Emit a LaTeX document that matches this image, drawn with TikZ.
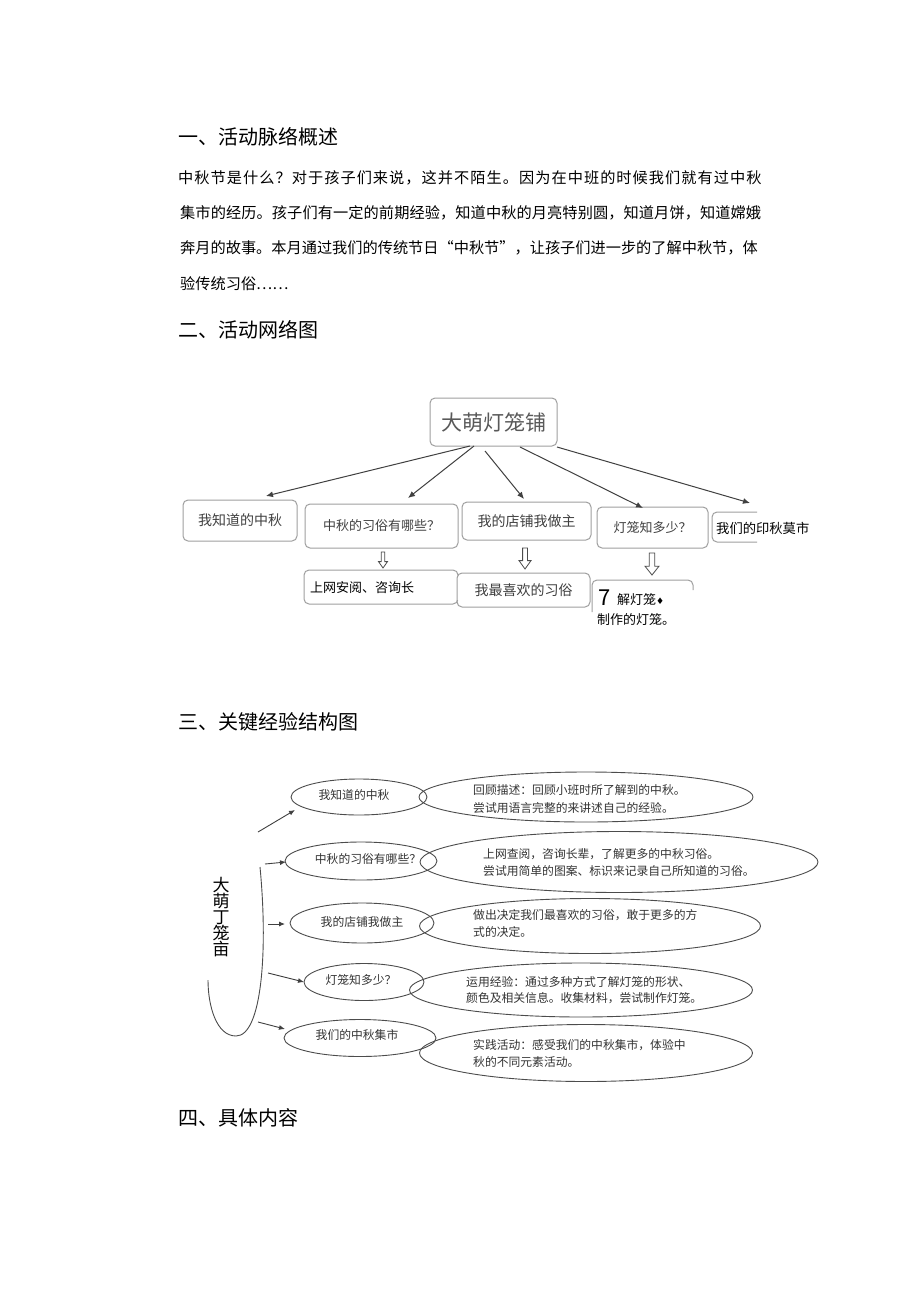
\documentclass[tikz,border=0pt]{standalone}
\usepackage{fontspec}
\setmainfont{Noto Sans CJK SC}
\newfontfamily\dejavu{DejaVu Sans}
\usetikzlibrary{arrows.meta,shapes.geometric}
\newcommand\ls[2]{{\addfontfeature{LetterSpace=#1}#2}}
\newcommand\fs[1]{\fontsize{#1}{#1}\selectfont}
\newcommand\hdown[4]{%
  \draw[hollow] (#1-#4*0.4,#2) -- (#1+#4*0.4,#2) -- (#1+#4*0.4,#2+#3*0.6) -- (#1+#4,#2+#3*0.6) -- (#1,#2+#3) -- (#1-#4,#2+#3*0.6) -- (#1-#4*0.4,#2+#3*0.6) -- cycle;}
\tikzset{
  txt/.style={inner sep=0pt, anchor=west},
  head/.style={txt, font=\fs{20}},
  body/.style={txt, font=\fs{15.2}},
  rbox/.style={draw=gray!75, line width=1pt, rounded corners=5pt, inner sep=0pt, text=black!75, font=\fs{13}},
  conn/.style={draw=gray!50!black, line width=1pt, -{Latex[length=7pt,width=6pt]}},
  sconn/.style={draw=gray!50!black, line width=0.9pt, -{Latex[length=6pt,width=5pt]}},
  hollow/.style={draw=gray!60!black, line width=0.8pt},
  sell/.style={ellipse, draw=gray!60!black, line width=0.9pt, inner sep=0pt},
  etxt/.style={inner sep=0pt, text=black!80, font=\fs{11.8}},
  ltxt/.style={txt, text=black!80, font=\fs{11.8}},
}
\begin{document}
\begin{tikzpicture}[x=1pt,y=-1pt]
\useasboundingbox[fill=white] (0,0) rectangle (920,1301);

% ---------- section 1 ----------
\node[head] (h1) at (178,137) {一、活动脉络概述};
\node[body] (p1) at (178,178) {\ls{6.8}{中秋节是什么？对于孩子们来说，这并不陌生。因为在中班的时候我们就有过中秋}};
\node[body] (p2) at (180,213) {\ls{0.6}{集市的经历。孩子们有一定的前期经验，知道中秋的月亮特别圆，知道月饼，知道嫦娥}};
\node[body] (p3) at (180,248) {奔月的故事。本月通过我们的传统节日“中秋节”，让孩子们进一步的了解中秋节，体};
\node[body] (p4) at (180,284) {验传统习俗……};

% ---------- section 2 ----------
\node[head] (h2) at (178,330) {二、活动网络图};

\node[rbox, minimum width=127pt, minimum height=48pt, font=\fs{21}, text=black!65] (root) at (493.5,422) {大萌灯笼铺};

\node[rbox, minimum width=114pt, minimum height=41pt, font=\fs{14}] (c1) at (240,520.5) {我知道的中秋};
\node[rbox, minimum width=153pt, minimum height=44pt] (c2) at (381.5,526) {中秋的习俗有哪些？};
\node[rbox, minimum width=129pt, minimum height=38pt, font=\fs{14}] (c3) at (526.5,521) {我的店铺我做主};
\node[rbox, minimum width=111pt, minimum height=41pt] (c4) at (652.5,527.5) {灯笼知多少？};
\draw[draw=gray!75, line width=1pt, rounded corners=5pt] (757,512) -- (712,512) -- (712,542) -- (757,542);
\node[txt, font=\fs{13.3}, text=black] (c5) at (716,528) {我们的印秋莫市};

\coordinate (r1) at (470,446);
\coordinate (r2) at (474,446);
\coordinate (r3) at (485,451);
\coordinate (r4) at (520,447);
\coordinate (r5) at (557,447);
\coordinate (t1) at (266,496);
\coordinate (t2) at (408,498);
\coordinate (t3) at (524,499);
\coordinate (t4) at (643,508);
\coordinate (t5) at (750,503);
\draw[conn] (r1) -- (t1);
\draw[conn] (r2) -- (t2);
\draw[conn] (r3) -- (t3);
\draw[conn] (r4) -- (t4);
\draw[conn] (r5) -- (t5);

\hdown{383}{552}{16}{4.5}
\hdown{525}{548}{21}{6}
\hdown{652}{553}{22}{7}

\draw[draw=gray!75, line width=1pt, rounded corners=5pt] (304,570) rectangle (458,604);
\node[txt, fill=white, minimum height=24pt, text width=148pt, font=\fs{13}, text=black, inner xsep=4pt] (s2) at (306,588) {上网安阅、咨询长};
\node[rbox, minimum width=133pt, minimum height=34pt, font=\fs{14}] (s3) at (523.5,590) {我最喜欢的习俗};
\draw[draw=gray!75, line width=1pt, rounded corners=5pt] (592,612) -- (592,580) -- (693,580) -- (693,590);
\node[txt, font=\fs{22}, text=black] (s4a) at (598,598) {\textit{7}};
\node[txt, font=\fs{13}, text=black] (s4b) at (617,600) {解灯笼{\dejavu\fs{9}♦}};
\node[txt, font=\fs{13}, text=black] (s4c) at (597,620) {制作的灯笼。};

% ---------- section 3 ----------
\node[head] (h3) at (178,722) {三、关键经验结构图};

\draw[draw=gray!60!black, line width=0.9pt] (260,867) .. controls (268,950) and (262,1036) .. (236,1036) .. controls (216,1036) and (208,1005) .. (208,980);
\node[inner sep=0pt, font=\fs{17}, text=black, align=center] (vt) at (221,917) {大\\[-1pt]萌\\[-1pt]丁\\[-1pt]笼\\[-1pt]亩};

\node[sell, minimum width=136pt, minimum height=36pt] (e1) at (359,797) {};
\node[sell, minimum width=152pt, minimum height=38pt] (e2) at (361,861) {};
\node[sell, minimum width=144pt, minimum height=40pt] (e3) at (362,923) {};
\node[sell, minimum width=120pt, minimum height=37pt] (e4) at (364,982) {};
\node[sell, minimum width=152pt, minimum height=37pt] (e5) at (360,1038) {};
\node[etxt] (e1t) at (354,795) {我知道的中秋};
\node[etxt] (e2t) at (368,859) {中秋的习俗有哪些？};
\node[etxt] (e3t) at (362,922) {我的店铺我做主};
\node[etxt] (e4t) at (361,980) {灯笼知多少？};
\node[etxt] (e5t) at (357,1035) {我们的中秋集市};

\node[sell, minimum width=334pt, minimum height=50pt] (l1) at (586,797) {};
\node[sell, minimum width=398pt, minimum height=61pt] (l2) at (619,862) {};
\node[sell, minimum width=341pt, minimum height=55pt] (l3) at (590,926) {};
\node[sell, minimum width=343pt, minimum height=54pt] (l4) at (581,990) {};
\node[sell, minimum width=333pt, minimum height=57pt] (l5) at (586,1053) {};
\node[ltxt] (l1a) at (473,790) {回顾描述：回顾小班时所了解到的中秋。};
\node[ltxt] (l1b) at (473,808) {尝试用语言完整的来讲述自己的经验。};
\node[ltxt] (l2a) at (483,854) {上网查阅，咨询长辈，了解更多的中秋习俗。};
\node[ltxt] (l2b) at (483,871) {尝试用简单的图案、标识来记录自己所知道的习俗。};
\node[ltxt] (l3a) at (473,915) {做出决定我们最喜欢的习俗，敢于更多的方};
\node[ltxt] (l3b) at (473,932) {式的决定。};
\node[ltxt] (l4a) at (466,982) {运用经验：通过多种方式了解灯笼的形状、};
\node[ltxt] (l4b) at (466,998) {颜色及相关信息。收集材料，尝试制作灯笼。};
\node[ltxt] (l5a) at (473,1045) {实践活动：感受我们的中秋集市，体验中};
\node[ltxt] (l5b) at (473,1062) {秋的不同元素活动。};

\coordinate (b1) at (258,832);
\coordinate (b2) at (265,864);
\coordinate (b3) at (268,924);
\coordinate (b4) at (268,973);
\coordinate (b5) at (258,1022);
\coordinate (d1) at (295,810);
\coordinate (d2) at (286,862);
\coordinate (d3) at (285,924);
\coordinate (d4) at (304,982);
\coordinate (d5) at (285,1029);
\draw[sconn] (b1) -- (d1);
\draw[sconn] (b2) -- (d2);
\draw[sconn] (b3) -- (d3);
\draw[sconn] (b4) -- (d4);
\draw[sconn] (b5) -- (d5);

% ---------- section 4 ----------
\node[head] (h4) at (178,1118) {四、具体内容};
\end{tikzpicture}
\end{document}
